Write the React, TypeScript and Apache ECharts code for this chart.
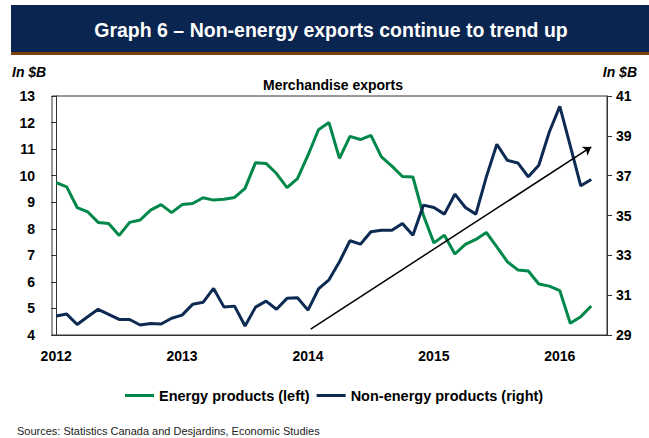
import React, { useEffect, useRef } from "react";
import * as echarts from "echarts";

const yearLabels = ["2012", "2013", "2014", "2015", "2016"];
const yearTickIndex = [0, 12, 24, 36, 48];

// Monthly, Jan 2012 .. Apr 2016
const energy = [
  9.74, 9.58, 8.8, 8.64, 8.24, 8.2, 7.75, 8.24, 8.33, 8.7, 8.91, 8.61,
  8.91, 8.95, 9.17, 9.08, 9.11, 9.18, 9.52, 10.49, 10.46, 10.08, 9.55, 9.89,
  10.77, 11.73, 12.0, 10.65, 11.48, 11.36, 11.52, 10.71, 10.36, 9.97, 9.95, 8.51,
  7.47, 7.76, 7.05, 7.41, 7.6, 7.86, 7.32, 6.76, 6.45, 6.41, 5.92, 5.84,
  5.67, 4.44, 4.69, 5.09,
];
const nonEnergy = [
  29.95, 30.05, 29.53, 29.92, 30.29, 30.04, 29.78, 29.78, 29.5, 29.58, 29.55, 29.84,
  30.0, 30.54, 30.64, 31.34, 30.4, 30.45, 29.45, 30.4, 30.7, 30.29, 30.84, 30.87,
  30.25, 31.31, 31.77, 32.68, 33.73, 33.56, 34.18, 34.26, 34.26, 34.6, 34.01, 35.52,
  35.4, 35.07, 36.07, 35.4, 35.07, 36.94, 38.58, 37.77, 37.64, 36.94, 37.52, 39.19,
  40.48, 38.49, 36.49, 36.81,
];
const leftTicks = [4, 5, 6, 7, 8, 9, 10, 11, 12, 13];
const rightTicks = [29, 31, 33, 35, 37, 39, 41];
// trend arrow endpoints: [monthIndex, right-axis value]
const arrowStart = [24.26, 29.3];
const arrowEnd = [51.0, 38.44];

const FONT = "'Liberation Sans', Arial, sans-serif";
const GREEN = "#00884a";
const NAVY = "#0c2a52";

export default function App() {
  const ref = useRef<HTMLDivElement>(null);
  useEffect(() => {
    if (!ref.current) return;
    const chart = echarts.init(ref.current, undefined, { renderer: "svg" });
    const axisLabelStyle = {
      color: "#000",
      fontSize: 14,
      fontWeight: "bold" as const,
      fontFamily: FONT,
    };
    chart.setOption({
      animation: false,
      backgroundColor: "#fff",
      graphic: [
        { type: "rect", shape: { x: 11, y: 5, width: 638, height: 47 }, style: { fill: "#0a2550" }, silent: true },
        { type: "rect", shape: { x: 11, y: 52, width: 638, height: 3 }, style: { fill: "#7f3f0a" }, silent: true },
        {
          type: "text",
          x: 331,
          y: 30,
          style: {
            text: "Graph 6 – Non-energy exports continue to trend up",
            fill: "#fff",
            font: `bold 19.5px ${FONT}`,
            textAlign: "center",
            textVerticalAlign: "middle",
          },
        },
        {
          type: "text",
          x: 12,
          y: 72,
          style: { text: "In $B", fill: "#000", font: `italic bold 14px ${FONT}`, textAlign: "left", textVerticalAlign: "middle" },
        },
        {
          type: "text",
          x: 637,
          y: 72,
          style: { text: "In $B", fill: "#000", font: `italic bold 14px ${FONT}`, textAlign: "right", textVerticalAlign: "middle" },
        },
        {
          type: "text",
          x: 333,
          y: 85,
          style: { text: "Merchandise exports", fill: "#000", font: `bold 14px ${FONT}`, textAlign: "center", textVerticalAlign: "middle" },
        },
        {
          type: "text",
          x: 17,
          y: 431,
          style: {
            text: "Sources: Statistics Canada and Desjardins, Economic Studies",
            fill: "#222",
            font: `11px ${FONT}`,
            textAlign: "left",
            textVerticalAlign: "middle",
          },
        },
      ],
      legend: {
        left: 120,
        top: 383,
        icon: "rect",
        itemWidth: 29,
        itemHeight: 3,
        itemGap: 7,
        textStyle: { color: "#000", fontSize: 14.5, fontWeight: "bold", fontFamily: FONT },
        data: ["Energy products (left)", "Non-energy products (right)"],
      },
      grid: {
        left: 52,
        right: 42,
        top: 96,
        bottom: 103,
        show: true,
        borderColor: "#333",
        borderWidth: 1,
        backgroundColor: "transparent",
      },
      xAxis: {
        type: "value",
        min: -0.4,
        max: 52.5,
        axisLine: { show: true, lineStyle: { color: "#333", width: 1 } },
        axisTick: { show: false },
        splitLine: { show: false },
        axisLabel: {
          ...axisLabelStyle,
          margin: 14,
          customValues: yearTickIndex,
          formatter: (v: number) => {
            const k = yearTickIndex.indexOf(Math.round(v));
            return k >= 0 ? yearLabels[k] : "";
          },
        },
      },
      yAxis: [
        {
          type: "value",
          position: "left",
          min: 4,
          max: 13,
          interval: 1,
          axisLine: { show: true, lineStyle: { color: "#333", width: 1 } },
          axisTick: { show: true, inside: false, length: 5, customValues: leftTicks, lineStyle: { color: "#333" } },
          splitLine: { show: false },
          axisLabel: { ...axisLabelStyle, margin: 17, customValues: leftTicks },
        },
        {
          type: "value",
          position: "right",
          min: 29,
          max: 41,
          axisLine: { show: true, lineStyle: { color: "#333", width: 1 } },
          axisTick: { show: true, inside: false, length: 5, customValues: rightTicks, lineStyle: { color: "#333" } },
          splitLine: { show: false },
          axisLabel: { ...axisLabelStyle, margin: 9, customValues: rightTicks },
        },
      ],
      series: [
        {
          name: "Energy products (left)",
          type: "line",
          yAxisIndex: 0,
          data: energy.map((v, i) => [i, v]),
          showSymbol: false,
          symbol: "none",
          lineStyle: { color: GREEN, width: 3 },
          itemStyle: { color: GREEN },
          silent: true,
        },
        {
          name: "Non-energy products (right)",
          type: "line",
          yAxisIndex: 1,
          data: nonEnergy.map((v, i) => [i, v]),
          showSymbol: false,
          symbol: "none",
          lineStyle: { color: NAVY, width: 3 },
          itemStyle: { color: NAVY },
          silent: true,
          z: 3,
          markLine: {
            silent: true,
            symbol: ["none", "arrow"],
            symbolSize: 8,
            label: { show: false },
            lineStyle: { color: "#000", width: 1.5, type: "solid" },
            emphasis: { disabled: true },
            data: [[{ coord: arrowStart }, { coord: arrowEnd }]],
          },
        },
      ],
    });
    return () => chart.dispose();
  }, []);
  return (
    <div
      ref={ref}
      style={{ position: "fixed", left: 0, top: 0, width: 649, height: 438 }}
    />
  );
}
